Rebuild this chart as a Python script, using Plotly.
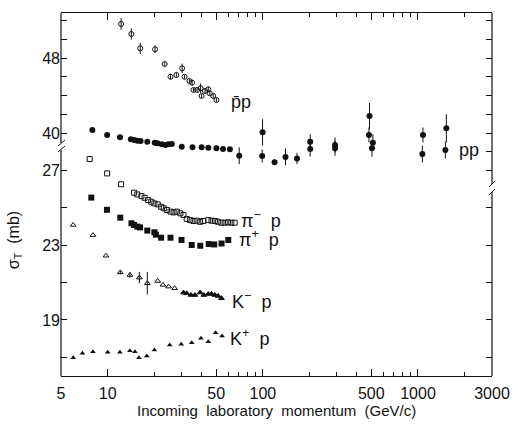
import math
import plotly.graph_objects as go

# ---- antiproton-proton (upper scale) ----
pbarp_p = [12.2, 14.2, 16.2, 20.2, 23.3, 25.4, 27.7, 30.2, 31.3, 33.6, 35.0, 35.7,
           37.7, 39.7, 40.3, 42.4, 44.5, 45.5, 47.9, 50.2]
pbarp_sig = [51.63, 50.56, 49.03, 48.93, 47.36, 46.0, 46.19, 46.9, 46.0, 45.55, 45.37,
             44.59, 44.59, 44.77, 43.95, 44.48, 44.66, 44.23, 43.95, 43.52]
pbarp_err = [0.6, 0.6, 0.6, 0.4, 0.2, 0.3, 0.2, 0.5, 0.2, 0.2, 0.3, 0.2,
             0.2, 0.5, 0.2, 0.3, 0.3, 0.2, 0.2, 0.2]

# ---- proton-proton (upper scale) ----
pp_p = [7.96, 9.92, 12.0, 14.1, 14.8, 15.5, 16.3, 18.0, 20.1, 20.9, 22.3, 23.6, 24.6,
        25.9, 30.0, 35.2, 40.3, 44.5, 50.2, 55.4, 61.3, 70.4,
        99.6, 99.0, 119, 140, 166, 202, 202, 292, 292, 487, 483, 512, 505,
        1077, 1067, 1524, 1502]
pp_sig = [40.32, 39.79, 39.54, 39.33, 39.25, 39.18, 39.15, 39.07, 38.97, 38.9, 38.79,
          38.72, 38.79, 38.83, 38.54, 38.47, 38.47, 38.43, 38.37, 38.29, 38.26, 37.58,
          40.07, 37.55, 36.88, 37.45, 37.28, 39.07, 38.29, 38.72, 38.37, 41.81, 39.79,
          38.97, 38.37, 39.79, 37.76, 40.5, 38.19]
pp_err = [0, 0, 0, 0, 0, 0, 0, 0, 0, 0, 0, 0, 0, 0, 0, 0, 0, 0, 0, 0, 0, 0.9,
          1.4, 0.7, 0.3, 0.9, 0.6, 0.8, 0.8, 0.8, 0.8, 1.4, 0.8, 0.9, 0.9,
          0.8, 0.9, 1.5, 0.9]

# ---- pi- p (lower scale) ----
pimp_p = [7.65, 9.92, 12.2, 14.8, 15.5, 16.5, 17.3, 18.2, 19.1, 20.0, 21.0, 22.1, 23.0,
          24.1, 25.4, 26.6, 27.9, 29.4, 30.8, 32.3, 34.0, 35.7, 37.5, 39.4, 41.3, 44.5,
          46.7, 49.1, 51.5, 54.1, 56.8, 59.6, 62.6, 65.8]
pimp_sig = [27.59, 26.82, 26.24, 25.79, 25.70, 25.61, 25.52, 25.40, 25.31, 25.22, 25.17,
            25.04, 24.96, 24.87, 24.78, 24.74, 24.78, 24.69, 24.60, 24.39, 24.33, 24.28,
            24.30, 24.24, 24.28, 24.33, 24.30, 24.28, 24.24, 24.19, 24.19, 24.21, 24.19,
            24.19]

# ---- pi+ p (lower scale) ----
pipp_p = [7.84, 9.89, 12.05, 14.23, 14.8, 15.54, 16.17, 18.0, 20.0, 20.45, 22.1, 25.4,
          29.9, 34.8, 39.5, 44.8, 48.6, 54.2, 59.9]
pipp_sig = [25.53, 24.88, 24.46, 24.16, 24.07, 23.98, 23.94, 23.77, 23.68, 23.55, 23.39,
            23.39, 23.27, 23.0, 22.96, 23.05, 23.03, 23.08, 23.27]

# ---- K- p (lower scale) ----
kmp_p = [5.99, 8.03, 9.75, 12.05, 13.9, 16.0, 18.0, 21.0, 22.7, 24.7, 27.0,
         30.8, 32.3, 34.4, 36.5, 39.4, 41.7, 44.5, 46.7, 49.1, 51.5, 54.1]
kmp_sig = [24.07, 23.53, 22.43, 21.54, 21.4, 21.26, 20.96, 21.08, 20.87, 20.78, 20.69,
           20.46, 20.42, 20.33, 20.33, 20.46, 20.33, 20.39, 20.39, 20.33, 20.28, 20.16]
kmp_err = [0, 0, 0, 0.1, 0.15, 0.3, 0.6, 0, 0, 0, 0,
           0, 0, 0, 0, 0, 0, 0, 0, 0, 0, 0]

# ---- K+ p (lower scale) ----
kpp_p = [5.99, 6.87, 8.03, 10.0, 11.99, 13.9, 14.98, 15.9, 17.85, 20.0, 25.1, 29.8,
         34.8, 39.9, 44.5, 49.6, 54.6]
kpp_sig = [16.99, 17.22, 17.31, 17.28, 17.28, 17.36, 17.31, 16.99, 17.08, 17.4, 17.67,
           17.70, 17.79, 18.02, 17.84, 18.32, 18.15]

x_major = [5, 10, 50, 100, 500, 1000, 3000]
x_minor = [20, 30, 40, 60, 70, 80, 90, 200, 300, 400, 600, 700, 800, 900, 2000]
upper_ticks = [40, 42, 44, 46, 48, 50, 52]
upper_labels = ["40", "", "", "", "48", "", ""]
upper_ticks_right = [36, 38, 40, 42, 44, 46, 48, 50, 52]
lower_ticks = [17, 19, 21, 23, 25, 27]
lower_labels = ["", "19", "", "23", "", "27"]

INK = "#111111"
FONT = "Liberation Sans"
X_RANGE = [math.log10(5), math.log10(3000)]
UPPER_RANGE = [33.92, 52.8]


def errs(vals):
    return dict(type="data", array=vals, visible=True, thickness=1, width=0, color=INK)


fig = go.Figure()

fig.add_trace(go.Scatter(x=pbarp_p, y=pbarp_sig, yaxis="y2", mode="markers",
                         marker=dict(symbol="circle-open", size=5, color=INK, line=dict(width=1)),
                         error_y=errs(pbarp_err), name="pbar p"))
fig.add_trace(go.Scatter(x=pp_p, y=pp_sig, yaxis="y2", mode="markers",
                         marker=dict(symbol="circle", size=6, color=INK),
                         error_y=errs(pp_err), name="pp"))
fig.add_trace(go.Scatter(x=pimp_p, y=pimp_sig, yaxis="y", mode="markers",
                         marker=dict(symbol="square-open", size=5, color=INK, line=dict(width=1)),
                         name="pi- p"))
fig.add_trace(go.Scatter(x=pipp_p, y=pipp_sig, yaxis="y", mode="markers",
                         marker=dict(symbol="square", size=6, color=INK),
                         name="pi+ p"))
kmp_symbols = ["triangle-up-open" if p < 30 else "triangle-up" for p in kmp_p]
fig.add_trace(go.Scatter(x=kmp_p, y=kmp_sig, yaxis="y", mode="markers",
                         marker=dict(symbol=kmp_symbols, size=5, color=INK,
                                     line=dict(width=1, color=INK)),
                         error_y=errs(kmp_err), name="K- p"))
fig.add_trace(go.Scatter(x=kpp_p, y=kpp_sig, yaxis="y", mode="markers",
                         marker=dict(symbol="triangle-up", size=5, color=INK),
                         name="K+ p"))
# empty traces that carry the top momentum axis and the right-hand upper-scale ticks
fig.add_trace(go.Scatter(x=[None], y=[None], xaxis="x2", yaxis="y2",
                         showlegend=False, hoverinfo="skip"))
fig.add_trace(go.Scatter(x=[None], y=[None], yaxis="y3", showlegend=False, hoverinfo="skip"))

# reaction labels
lab_font = dict(family=FONT, size=18, color=INK)
labels = [
    (72, 43.3, "y2", "p\u0304p"),
    (2137, 38.2, "y2", "pp"),
    (97, 24.35, "y", "\u03c0<sup>\u2212</sup>  p"),
    (94, 23.35, "y", "\u03c0<sup>+</sup>  p"),
    (84, 20.05, "y", "K<sup>\u2212</sup>  p"),
    (82, 18.05, "y", "K<sup>+</sup>  p"),
]
for xv, yv, yref, txt in labels:
    fig.add_annotation(x=math.log10(xv), y=yv, xref="x", yref=yref, text=txt,
                       showarrow=False, font=lab_font)

# axis titles
fig.add_annotation(x=-0.108, y=0.375, xref="paper", yref="paper", textangle=-90,
                   xanchor="center", yanchor="middle",
                   text="\u03c3<sub>T</sub>  (mb)", showarrow=False,
                   font=dict(family=FONT, size=16, color=INK))
fig.add_annotation(x=0.5, y=-0.094, xref="paper", yref="paper",
                   xanchor="center", yanchor="middle",
                   text="Incoming  laboratory  momentum  (GeV/c)", showarrow=False,
                   font=dict(family=FONT, size=15, color=INK))

# frame: plot area spans 436 x 363 px; vertical sides are broken between scales
W, H = 436.0, 363.0


def px(x, y):
    return (x - 61) / W, (376 - y) / H


def seg(x0, y0, x1, y1, w=1.2):
    a, b = px(x0, y0)
    c, d = px(x1, y1)
    fig.add_shape(type="line", xref="paper", yref="paper", x0=a, y0=b, x1=c, y1=d,
                  line=dict(color=INK, width=w))


seg(61, 13, 61, 143)
seg(61, 150, 61, 376)
seg(497, 13, 497, 184)
seg(497, 192, 497, 376)
# break marks
seg(58, 146, 65, 140, 1)
seg(58, 152, 65, 146, 1)
seg(494, 187, 500, 181, 1)
seg(494, 195, 500, 189, 1)

axis_font = dict(family=FONT, size=16, color=INK)
x_common = dict(type="log", range=X_RANGE, tickmode="array", tickvals=x_major,
                ticks="inside", ticklen=7, tickwidth=1, tickcolor=INK,
                minor=dict(tickmode="array", tickvals=x_minor, ticks="inside",
                           ticklen=4, tickcolor=INK),
                showline=True, linecolor=INK, linewidth=1.2, mirror=False,
                showgrid=False, zeroline=False)
fig.update_layout(
    width=522, height=431,
    margin=dict(l=61, r=25, t=13, b=55),
    paper_bgcolor="white", plot_bgcolor="rgba(0,0,0,0)",
    showlegend=False,
    xaxis=dict(**x_common, ticktext=[str(v) for v in x_major], ticklabelstandoff=3,
               tickfont=axis_font),
    xaxis2=dict(**x_common, overlaying="x", side="top", anchor="y2",
                showticklabels=False),
    yaxis=dict(domain=[0, (376 - 147) / H], range=[16.01, 28.23],
               tickmode="array", tickvals=lower_ticks, ticktext=lower_labels,
               ticks="inside", ticklen=6, tickcolor=INK, mirror="ticks",
               showline=False, showgrid=False, zeroline=False, tickfont=axis_font),
    yaxis2=dict(domain=[(376 - 190) / H, 1], range=UPPER_RANGE, anchor="x",
                tickmode="array", tickvals=upper_ticks, ticktext=upper_labels,
                ticks="inside", ticklen=6, tickcolor=INK,
                showline=False, showgrid=False, zeroline=False, tickfont=axis_font),
    yaxis3=dict(overlaying="y2", side="right", anchor="x", range=UPPER_RANGE,
                tickmode="array", tickvals=upper_ticks_right, showticklabels=False,
                ticks="inside", ticklen=6, tickcolor=INK,
                showline=False, showgrid=False, zeroline=False),
)

fig.write_html("out.html")
